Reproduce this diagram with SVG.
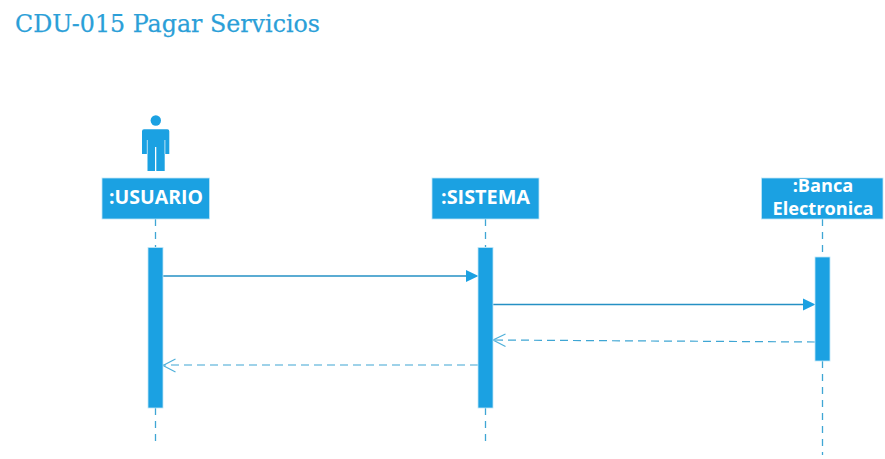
<svg xmlns="http://www.w3.org/2000/svg" width="885" height="459" viewBox="0 0 885 459">
<style>
.box{fill:#1ba1e2;stroke:#bfe6f8;stroke-width:.8}
.lbl{font-family:"Open Sans","Noto Sans",sans-serif;font-weight:700;font-size:19px;fill:#fff;text-anchor:middle}
.life{fill:none;stroke:#3fa6d4;stroke-width:1.3;stroke-dasharray:7 6}
.msg{fill:none;stroke:#2590c4;stroke-width:1.3}
.ret{fill:none;stroke:#3fa6d4;stroke-width:1.2;stroke-dasharray:8 5}
.open{fill:none;stroke:#4fb0da;stroke-width:1.2}
.head{fill:#1ba1e2}
</style>
<rect width="885" height="459" fill="#fff"/>
<text id="title" x="15" y="32" font-family="'DejaVu Serif',serif" font-size="25" fill="#2b9fd8" stroke="#2b9fd8" stroke-width=".25" textLength="305" lengthAdjust="spacingAndGlyphs">CDU-015 Pagar Servicios</text>
<g id="connectors">
<path class="life" d="M155.500 219V247M155.500 408V445"/>
<path class="life" d="M485.500 219V247M485.500 408V442"/>
<path class="life" d="M822.500 219V257M822.500 361V455"/>
<path class="msg" d="M163 276H466"/><path class="head" d="M466 270L478.500 276L466 282Z"/>
<path class="msg" d="M493 304.500H803"/><path class="head" d="M803 298.500L815.500 304.500L803 310.500Z"/>
<path class="ret" d="M815 342L493 340"/><path class="open" d="M505.500 334L493 340L505.500 346.500"/>
<path class="ret" d="M478 365H163"/><path class="open" d="M175.500 359L163 365.500L175.500 372"/>
</g>
<g id="actor-usuario">
<circle cx="155.800" cy="120.500" r="5.200" fill="#1ba1e2"/>
<path fill="#1ba1e2" d="M144 129.300H167.300Q169.300 129.300 169.300 131.300V154H164.700V171H156.300V147H155V171H147.500V154H142V131.300Q142 129.300 144 129.300Z"/>
<path d="M147.300 140V154M164.900 140V154" stroke="#fff" stroke-width=".7" fill="none"/>
</g>
<g id="usuario"><rect class="box" x="102" y="178" width="107.500" height="41"/><text class="lbl" x="156" y="203.500" textLength="94" lengthAdjust="spacingAndGlyphs">:USUARIO</text><rect class="box" x="148" y="247.500" width="15" height="160.500"/></g>
<g id="sistema"><rect class="box" x="432" y="178" width="107" height="41"/><text class="lbl" x="485.500" y="203.500" textLength="89" lengthAdjust="spacingAndGlyphs">:SISTEMA</text><rect class="box" x="478" y="247.500" width="15" height="160.500"/></g>
<g id="banca"><rect class="box" x="761.500" y="178" width="121.500" height="41"/><text class="lbl" style="font-size:18.200px"><tspan x="823" y="191.500">:Banca</tspan><tspan x="823" y="215">Electronica</tspan></text><rect class="box" x="815" y="257" width="15" height="104"/></g>
</svg>
